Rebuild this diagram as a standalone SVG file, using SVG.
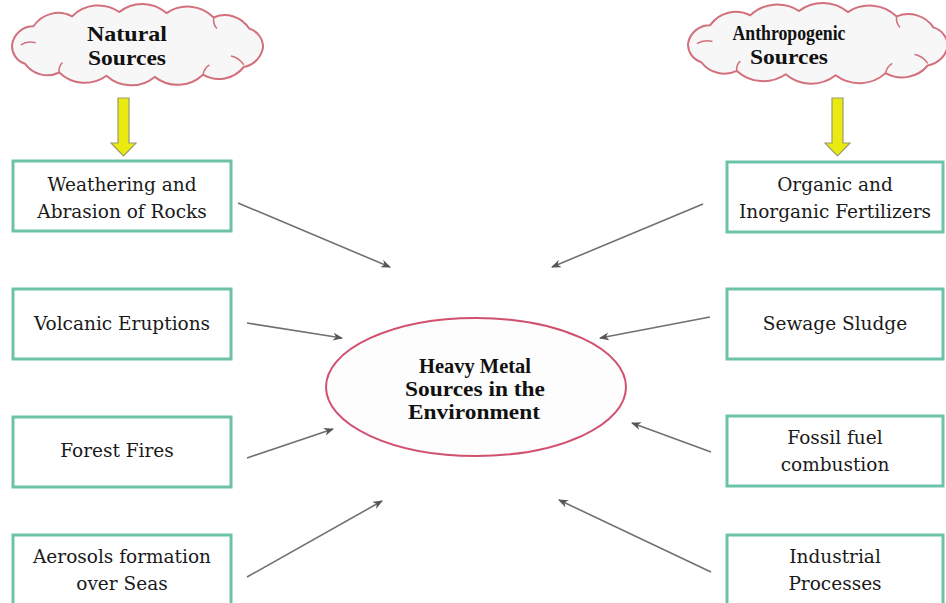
<svg xmlns="http://www.w3.org/2000/svg" width="946" height="603" viewBox="0 0 946 603">
  <style>
    .box { fill: #ffffff; stroke: #6cc3aa; stroke-width: 3; }
    .lbl { font-family: "DejaVu Serif", "Liberation Serif", serif; font-size: 18.5px; fill: #1a1a1a; text-anchor: middle; }
    .hd { font-family: "Liberation Serif", "DejaVu Serif", serif; font-size: 21px; font-weight: bold; fill: #111; text-anchor: middle; }
    .cloud { fill: #f7f7f7; stroke: #d2707e; stroke-width: 2; stroke-linejoin: round; vector-effect: non-scaling-stroke; }
    .curl { fill: none; stroke: #d2707e; stroke-width: 1.5; vector-effect: non-scaling-stroke; }
    .yarrow { fill: #eaea10; stroke: #9a9a70; stroke-width: 1.2; }
    .conn { stroke: #707070; stroke-width: 1.6; fill: none; marker-end: url(#head); }
  </style>
  <defs>
    <marker id="head" markerWidth="10" markerHeight="8" refX="9" refY="4" orient="auto" markerUnits="userSpaceOnUse">
      <path d="M0,0 L10,4 L0,8 L3,4 Z" fill="#555"/>
    </marker>
    <g id="cloudShape">
      <path class="cloud" d="M22,50 A20,20 0 0 1 42,33 A28,28 0 0 1 78,24 A35,35 0 0 1 122,20 A35,35 0 0 1 166,21 A35,35 0 0 1 210,25 A27,27 0 0 1 243,35 A18,18 0 0 1 256,52 A22,22 0 0 1 238,70 A30,30 0 0 1 200,77 A35,35 0 0 1 155,79 A35,35 0 0 1 110,78 A35,35 0 0 1 66,75 A26,26 0 0 1 34,67 A17,17 0 0 1 22,50 Z"/>
      <path class="curl" d="M30,50 Q36,46 44,48"/>
      <path class="curl" d="M66,75 Q65,70 69,66"/>
      <path class="curl" d="M200,77 Q201,71 206,68"/>
      <path class="curl" d="M238,68 Q233,61 226,60"/>
      <path class="curl" d="M210,25 Q209,31 213,35"/>
    </g>
  </defs>

  <rect width="946" height="603" fill="#ffffff"/>

  <!-- source clouds -->
  <g id="natural">
    <use href="#cloudShape" transform="translate(-11.6,-10) scale(1.073,1.1)"/>
    <text class="hd" x="127" y="41" textLength="80" lengthAdjust="spacingAndGlyphs">Natural</text>
    <text class="hd" x="127" y="65" textLength="78" lengthAdjust="spacingAndGlyphs">Sources</text>
  </g>
  <g id="anthropogenic">
    <use href="#cloudShape" transform="translate(663.6,-10.8) scale(1.11,1.09)"/>
    <text class="hd" x="789" y="40" textLength="113" lengthAdjust="spacingAndGlyphs">Anthropogenic</text>
    <text class="hd" x="789" y="64" textLength="78" lengthAdjust="spacingAndGlyphs">Sources</text>
  </g>

  <!-- yellow block arrows from the clouds to the first boxes -->
  <g id="natural-arrow">
    <path class="yarrow" d="M118,98 H129 V143 H136 L123.5,156 L111,143 H118 Z"/>
  </g>
  <g id="anthropogenic-arrow">
    <path class="yarrow" d="M832,98 H843 V143 H850 L837.5,156 L825,143 H832 Z"/>
  </g>

  <!-- natural sources -->
  <g id="weathering">
    <rect class="box" x="13" y="161" width="218" height="70"/>
    <text class="lbl" x="122" y="191">Weathering and</text>
    <text class="lbl" x="122" y="218">Abrasion of Rocks</text>
  </g>
  <g id="volcanic">
    <rect class="box" x="13" y="289" width="218" height="70"/>
    <text class="lbl" x="122" y="330">Volcanic Eruptions</text>
  </g>
  <g id="forest">
    <rect class="box" x="13" y="417" width="218" height="70"/>
    <text class="lbl" x="117" y="457">Forest Fires</text>
  </g>
  <g id="aerosols">
    <rect class="box" x="13" y="535" width="218" height="72"/>
    <text class="lbl" x="122" y="563">Aerosols  formation</text>
    <text class="lbl" x="122" y="590">over Seas</text>
  </g>

  <!-- anthropogenic sources -->
  <g id="fertilizers">
    <rect class="box" x="727" y="162" width="216" height="70"/>
    <text class="lbl" x="835" y="191">Organic and</text>
    <text class="lbl" x="835" y="218">Inorganic Fertilizers</text>
  </g>
  <g id="sewage">
    <rect class="box" x="727" y="289" width="216" height="70"/>
    <text class="lbl" x="835" y="330">Sewage Sludge</text>
  </g>
  <g id="fossil">
    <rect class="box" x="727" y="416" width="216" height="70"/>
    <text class="lbl" x="835" y="444">Fossil fuel</text>
    <text class="lbl" x="835" y="471">combustion</text>
  </g>
  <g id="industrial">
    <rect class="box" x="727" y="535" width="216" height="72"/>
    <text class="lbl" x="835" y="563">Industrial</text>
    <text class="lbl" x="835" y="590">Processes</text>
  </g>

  <!-- central node -->
  <g id="heavy-metal">
    <ellipse cx="476" cy="387" rx="150" ry="69" fill="#fdfdfd" stroke="#d0506e" stroke-width="2"/>
    <text class="hd" x="475" y="373" textLength="112" lengthAdjust="spacingAndGlyphs">Heavy Metal</text>
    <text class="hd" x="475" y="396" textLength="140" lengthAdjust="spacingAndGlyphs">Sources in the</text>
    <text class="hd" x="474" y="419" textLength="132" lengthAdjust="spacingAndGlyphs">Environment</text>
  </g>

  <!-- connectors into the central node -->
  <g id="connectors">
    <line class="conn" x1="238" y1="203" x2="390" y2="267"/>
    <line class="conn" x1="247" y1="323" x2="342" y2="338"/>
    <line class="conn" x1="247" y1="458" x2="333" y2="429"/>
    <line class="conn" x1="247" y1="577" x2="382" y2="501"/>
    <line class="conn" x1="703" y1="204" x2="552" y2="267"/>
    <line class="conn" x1="710" y1="317" x2="600" y2="338"/>
    <line class="conn" x1="711" y1="452" x2="632" y2="423"/>
    <line class="conn" x1="711" y1="572" x2="559" y2="500"/>
  </g>
</svg>
